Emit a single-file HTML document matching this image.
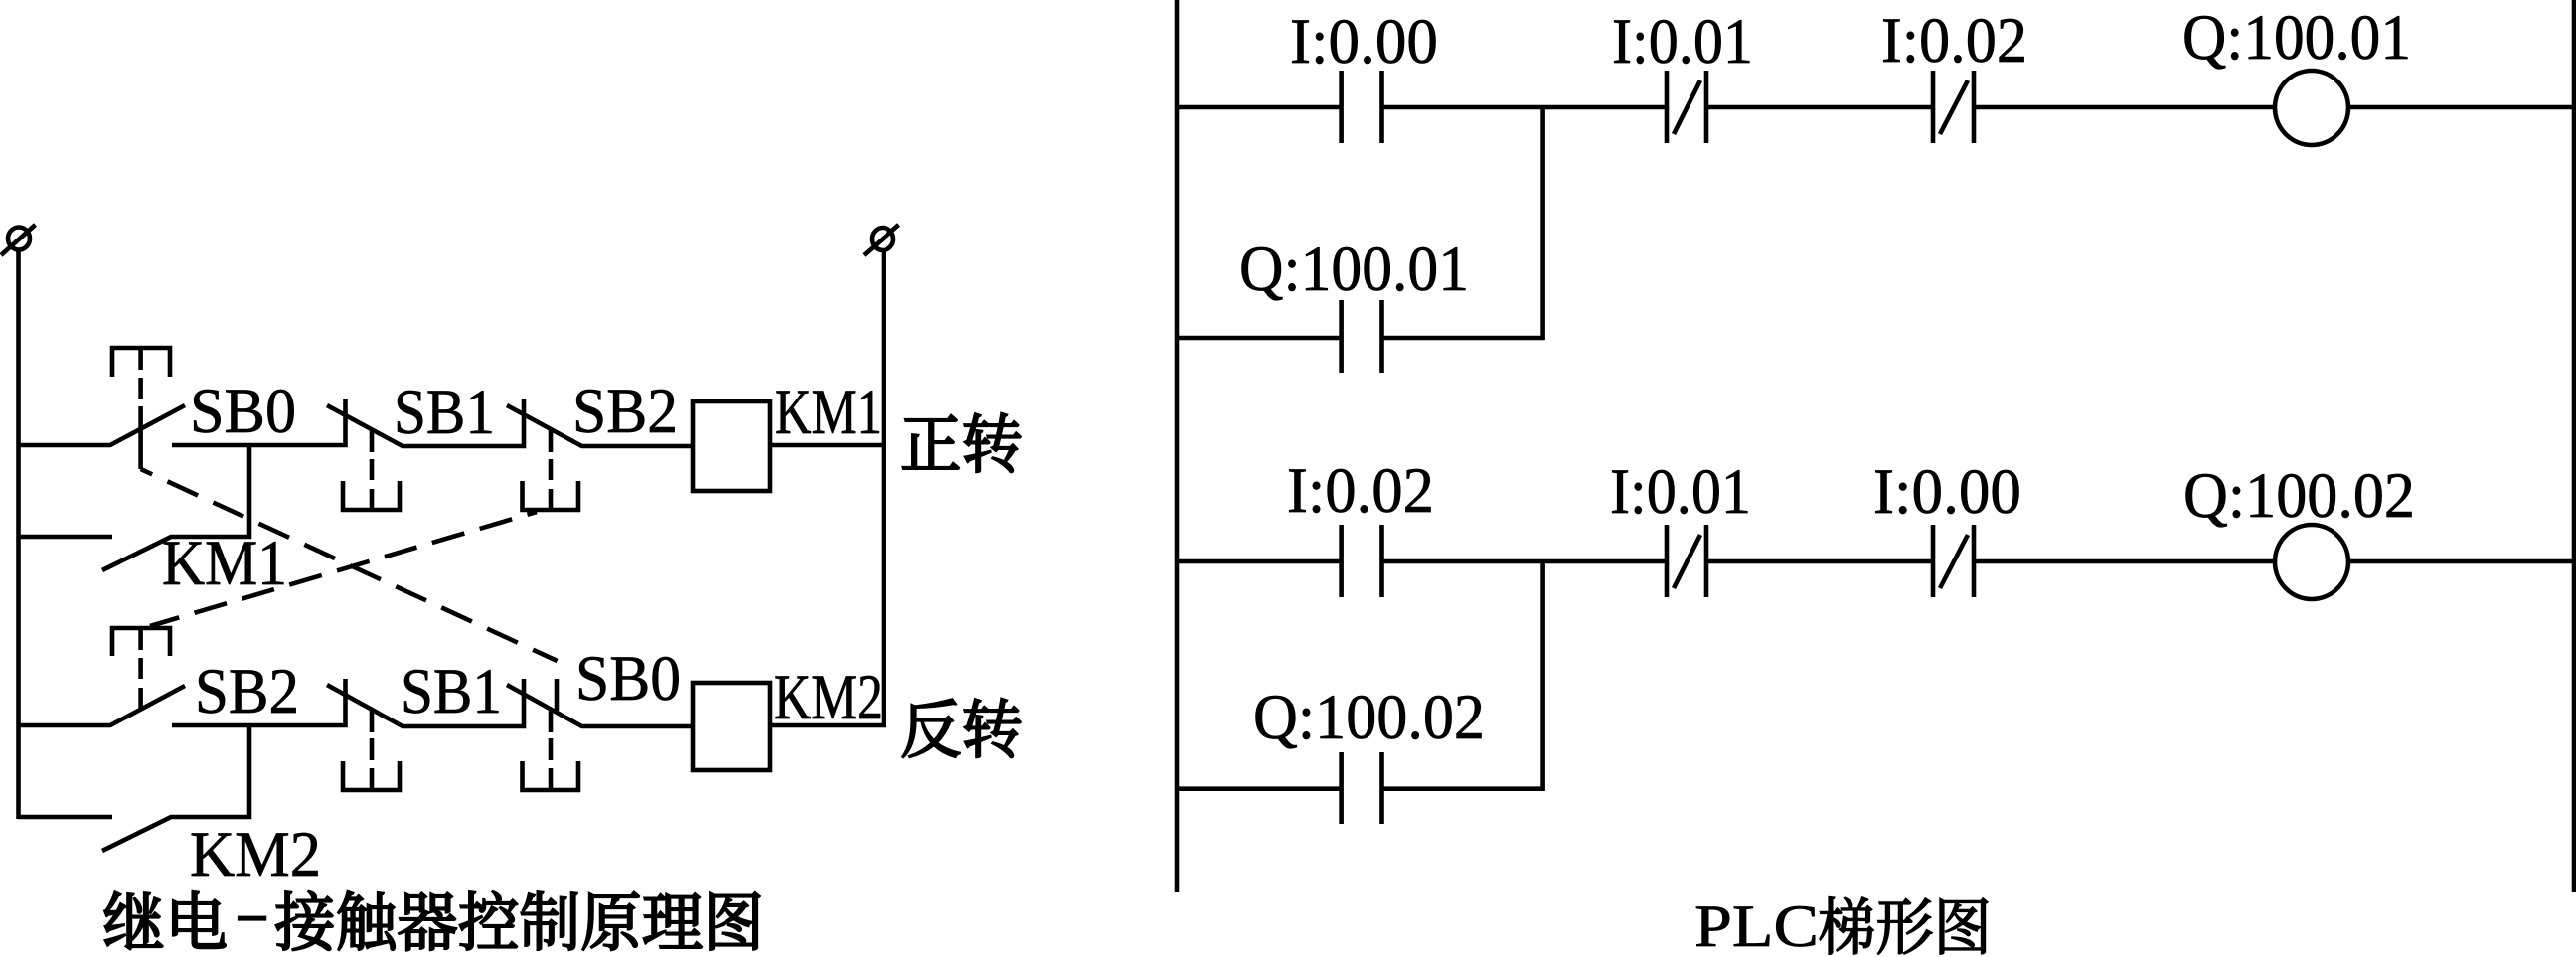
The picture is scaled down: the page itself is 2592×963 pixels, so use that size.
<!DOCTYPE html>
<html lang="zh">
<head>
<meta charset="utf-8">
<title>继电-接触器控制原理图 / PLC梯形图</title>
<style>
html,body{margin:0;padding:0;background:#fff;}
svg{display:block;}
text{font-family:"Liberation Serif","Noto Serif CJK SC",serif;fill:#000;stroke:#000;stroke-width:.7px;font-size:65px;}
.c{font-family:"Liberation Serif","Noto Serif CJK SC",serif;font-size:64px;font-weight:400;stroke-width:2.2px;}
.w{fill:none;stroke:#000;stroke-width:4.6;}
</style>
</head>
<body>
<svg width="2592" height="963" viewBox="0 0 2592 963" xmlns="http://www.w3.org/2000/svg">
<rect width="2592" height="963" fill="#fff"/>

<!-- Left: relay circuit -->
<g class="w">
  <path d="M18.5 252V824"/>
  <path d="M889 252V732"/>
  <ellipse cx="19" cy="240" rx="11" ry="11.5"/>
  <ellipse cx="888" cy="240.5" rx="11" ry="11.5"/>
  <path d="M1 257L35.5 226"/>
  <path d="M869 257L904.5 226"/>

  <!-- rung 1 -->
  <path d="M18 448H111L186 408"/>
  <path d="M173 448H347.5V401"/>
  <path d="M329 408L405 449H527V401"/>
  <path d="M510 408L585.5 449H697"/>
  <rect x="697" y="404" width="78" height="90"/>
  <path d="M775 448H889"/>
  <path d="M113 379V350H171V379"/>
  <path d="M141.6 350V372M141.6 380V402M141.6 409V472"/>
  <path d="M374 433V455M374 462V483M374 492V512"/>
  <path d="M345 484V513H402V484"/>
  <path d="M554 433V455M554 462V483M554 492V512"/>
  <path d="M525.5 484V513H582V484"/>

  <!-- KM1 -->
  <path d="M18 540H113"/>
  <path d="M103 574L172 540H251V448"/>

  <!-- rung 3 -->
  <path d="M18 730H111L186 690"/>
  <path d="M173 730H347.5V683"/>
  <path d="M329 689L405 731H527V683"/>
  <path d="M510 689L585.5 731H697"/>
  <rect x="697" y="687" width="78" height="88"/>
  <path d="M775 730H891"/>
  <path d="M113 660V632H171V660"/>
  <path d="M141.6 632V654M141.6 662V683M141.6 692V713"/>
  <path d="M374 715V737M374 743V765M374 773V793"/>
  <path d="M345 766V795H402V766"/>
  <path d="M554 715V737M554 743V765M554 773V793"/>
  <path d="M525.5 766V795H582V766"/>
  <path d="M560 683V715"/>

  <!-- KM2 -->
  <path d="M18 822H113"/>
  <path d="M103 856L172 822H251V730"/>

  <!-- mechanical links -->
  <path d="M141.6 472L560.6 665" stroke-dasharray="33.7 16.9" stroke-dashoffset="21"/>
  <path d="M540 515L151 630" stroke-dasharray="33.9 16" stroke-dashoffset="24"/>

  <!-- Right: ladder -->
  <path d="M1184 0V898"/>
  <path d="M2590 0V898"/>

  <path d="M1184 108H1350M1390.5 108H1677M1717 108H1945M1986 108H2289M2363 108H2590"/>
  <path d="M1349.6 71V144M1390.5 71V144"/>
  <path d="M1677 71V144M1717 71V144"/>
  <path d="M1945 71V144M1986 71V144"/>
  <ellipse cx="2326" cy="108.5" rx="37" ry="37.5"/>

  <path d="M1184 340H1350M1390.5 340H1552.6V108"/>
  <path d="M1349.6 302V375M1390.5 302V375"/>

  <path d="M1184 565H1350M1390.5 565H1677M1717 565H1945M1986 565H2289M2363 565H2590"/>
  <path d="M1349.6 528V601M1390.5 528V601"/>
  <path d="M1677 528V601M1717 528V601"/>
  <path d="M1945 528V601M1986 528V601"/>
  <ellipse cx="2326" cy="565.5" rx="37" ry="37.5"/>

  <path d="M1184 793.7H1350M1390.5 793.7H1552.6V565"/>
  <path d="M1349.6 757V829M1390.5 757V829"/>

  <path d="M1711 81L1684 135"/>
  <path d="M1980 81L1952 135"/>
  <path d="M1711 538L1684 592"/>
  <path d="M1980 538L1952 592"/>
</g>

<!-- Left labels -->
<text x="191" y="435" textLength="107" lengthAdjust="spacingAndGlyphs">SB0</text>
<text x="396" y="436" textLength="102" lengthAdjust="spacingAndGlyphs">SB1</text>
<text x="576" y="435" textLength="106" lengthAdjust="spacingAndGlyphs">SB2</text>
<text x="780" y="436" textLength="107" lengthAdjust="spacingAndGlyphs">KM1</text>
<text x="163" y="588" textLength="126" lengthAdjust="spacingAndGlyphs">KM1</text>
<text x="196" y="717" textLength="105" lengthAdjust="spacingAndGlyphs">SB2</text>
<text x="403" y="717" textLength="102" lengthAdjust="spacingAndGlyphs">SB1</text>
<text x="579" y="704" textLength="106" lengthAdjust="spacingAndGlyphs">SB0</text>
<text x="779" y="723" textLength="109" lengthAdjust="spacingAndGlyphs">KM2</text>
<text x="191" y="881" textLength="132" lengthAdjust="spacingAndGlyphs">KM2</text>

<text class="c" x="906" y="470" textLength="123" lengthAdjust="spacingAndGlyphs">正转</text>
<text class="c" x="906" y="757" textLength="123" lengthAdjust="spacingAndGlyphs">反转</text>

<text class="c" x="103" y="951" textLength="126" lengthAdjust="spacingAndGlyphs">继电</text>
<text class="c" x="235" y="939" textLength="37" lengthAdjust="spacingAndGlyphs" style="stroke-width:.3px">-</text>
<text class="c" x="276" y="951" textLength="493" lengthAdjust="spacingAndGlyphs">接触器控制原理图</text>

<!-- Right labels -->
<text x="1298" y="63" textLength="149" lengthAdjust="spacingAndGlyphs">I:0.00</text>
<text x="1622" y="63" textLength="142" lengthAdjust="spacingAndGlyphs">I:0.01</text>
<text x="1893" y="62" textLength="147" lengthAdjust="spacingAndGlyphs">I:0.02</text>
<text x="2196" y="59" textLength="230" lengthAdjust="spacingAndGlyphs">Q:100.01</text>
<text x="1247" y="292" textLength="231" lengthAdjust="spacingAndGlyphs">Q:100.01</text>

<text x="1295" y="515" textLength="148" lengthAdjust="spacingAndGlyphs">I:0.02</text>
<text x="1620" y="516" textLength="142" lengthAdjust="spacingAndGlyphs">I:0.01</text>
<text x="1885" y="516" textLength="149" lengthAdjust="spacingAndGlyphs">I:0.00</text>
<text x="2197" y="520" textLength="233" lengthAdjust="spacingAndGlyphs">Q:100.02</text>
<text x="1261" y="743" textLength="233" lengthAdjust="spacingAndGlyphs">Q:100.02</text>

<text x="1705" y="952" style="font-size:60px" textLength="125" lengthAdjust="spacingAndGlyphs">PLC</text>
<text class="c" x="1829" y="955" style="font-size:62px;stroke-width:1.6px" textLength="175" lengthAdjust="spacingAndGlyphs">梯形图</text>
</svg>
</body>
</html>
